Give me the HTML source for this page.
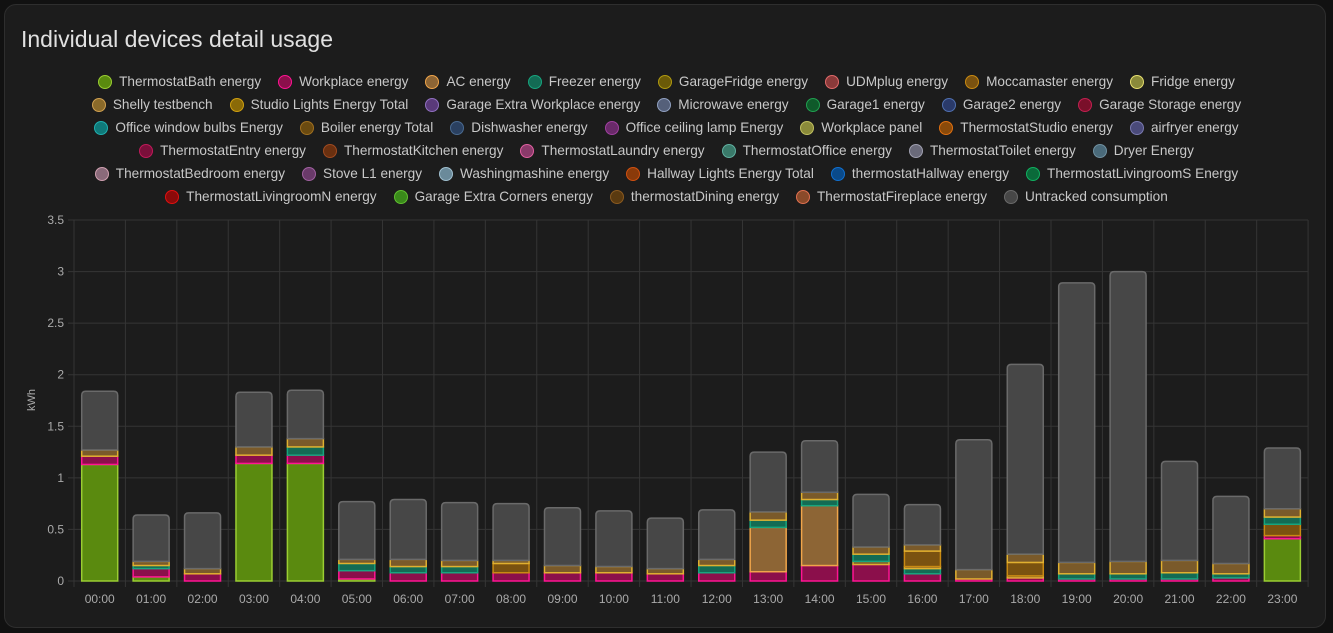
<!DOCTYPE html>
<html><head><meta charset="utf-8"><style>
body{margin:0;background:#111;width:1333px;height:633px;overflow:hidden;font-family:"Liberation Sans",sans-serif}
.card{position:absolute;left:4px;top:4px;width:1320px;height:622px;background:#1c1c1c;border:1px solid #2e2e2e;border-radius:12px}
.title{position:absolute;left:21px;top:26px;font-size:23px;color:#e1e1e1}
.leg{position:absolute;left:60px;width:1213px;display:flex;justify-content:center;gap:0 17px;font-size:13.6px;color:#c8c8c8;white-space:nowrap}
.leg span{display:flex;align-items:center}
.leg i{display:inline-block;width:12px;height:12px;border-radius:50%;border:1.5px solid;margin-right:7px}
svg{position:absolute;left:0;top:0}
</style></head><body>
<div class="card"></div>
<div class="title">Individual devices detail usage</div>
<div id="legend"></div>
<svg id="c" width="1333" height="633"></svg>
<script>
const rows=[
[["ThermostatBath energy","#5a8a0f","#9acd32"],["Workplace energy","#8b0f4b","#ff1493"],["AC energy","#8d6535","#f0a54a"],["Freezer energy","#136b54","#17a57e"],["GarageFridge energy","#6b5a08","#b09a10"],["UDMplug energy","#8a3a3a","#e06a6a"],["Moccamaster energy","#7a5210","#c98a12"],["Fridge energy","#8a8a3a","#e8e070"]],
[["Shelly testbench","#8a6a2a","#d0a050"],["Studio Lights Energy Total","#8a6a08","#d0a010"],["Garage Extra Workplace energy","#5a3a7a","#9070c0"],["Microwave energy","#55607a","#90a0c0"],["Garage1 energy","#0f5a2a","#20a050"],["Garage2 energy","#2a3a6a","#5070b0"],["Garage Storage energy","#7a0f2a","#c02050"]],
[["Office window bulbs Energy","#0f7a7a","#20b0b0"],["Boiler energy Total","#6a4a10","#a07020"],["Dishwasher energy","#2a4060","#4a6a90"],["Office ceiling lamp Energy","#6a2a6a","#a040a0"],["Workplace panel","#8a8a3a","#c0c060"],["ThermostatStudio energy","#8a4a0a","#e07010"],["airfryer energy","#4a4a7a","#7a7ab0"]],
[["ThermostatEntry energy","#7a0f3a","#c01a5a"],["ThermostatKitchen energy","#6a3010","#a04a20"],["ThermostatLaundry energy","#8a3a6a","#e060a0"],["ThermostatOffice energy","#3a7a6a","#60b0a0"],["ThermostatToilet energy","#6a6a7a","#a0a0b0"],["Dryer Energy","#4a6a7a","#7090a0"]],
[["ThermostatBedroom energy","#8a6a7a","#d0a0b0"],["Stove L1 energy","#6a3a6a","#a060a0"],["Washingmashine energy","#6a8a9a","#a0c0d0"],["Hallway Lights Energy Total","#8a3a0a","#d05010"],["thermostatHallway energy","#0a4a8a","#1070d0"],["ThermostatLivingroomS Energy","#0a6a3a","#10b060"]],
[["ThermostatLivingroomN energy","#8a0a0a","#e01010"],["Garage Extra Corners energy","#3a8a1a","#60c030"],["thermostatDining energy","#5a3a10","#8a5a20"],["ThermostatFireplace energy","#8a4a2a","#e07050"],["Untracked consumption","#474747","#6a6a6a"]]];
let lh="";const ys=[74,97,120,143,166,189];
rows.forEach((r,k)=>{lh+=`<div class="leg" style="top:${ys[k]}px">`+r.map(x=>`<span><i style="background:${x[1]};border-color:${x[2]}"></i>${x[0]}</span>`).join("")+`</div>`});
document.getElementById("legend").innerHTML=lh;
const Y=v=>581-v*103.14, L=74, W=51.42;
let s="";
for(let i=0;i<=7;i++){const y=Y(i*0.5);s+=`<line x1="${L-6}" x2="1308" y1="${y}" y2="${y}" stroke="#353535"/>`;s+=`<text x="64" y="${y+4}" fill="#aaa" font-size="12" text-anchor="end">${i*0.5}</text>`}
for(let i=0;i<=24;i++){const x=L+i*W;s+=`<line x1="${x}" x2="${x}" y1="220" y2="587" stroke="#353535"/>`}
s+=`<text transform="translate(35,400) rotate(-90)" fill="#aaa" font-size="11" text-anchor="middle">kWh</text>`;
const C={g:["#5a8a0f","#9acd32"],p:["#8b0f4b","#ff1493"],t:["#136b54","#17a57e"],a:["#8d6535","#f0a54a"],b:["#7a5210","#c98a12"],m:["#7a5a2a","#e0b030"],u:["#474747","#6a6a6a"]};
const D=[
[["g",1.13],["p",.08],["m",.06]],1.84,
[["g",.04],["p",.08],["t",.03],["m",.04]],.64,
[["p",.07],["m",.05]],.66,
[["g",1.14],["p",.08],["m",.08]],1.83,
[["g",1.14],["p",.08],["t",.08],["m",.08]],1.85,
[["g",.02],["p",.08],["t",.07],["m",.04]],.77,
[["p",.08],["t",.06],["m",.07]],.79,
[["p",.08],["t",.06],["m",.06]],.76,
[["p",.08],["b",.09],["m",.03]],.75,
[["p",.08],["m",.07]],.71,
[["p",.08],["m",.06]],.68,
[["p",.07],["m",.05]],.61,
[["p",.08],["t",.07],["m",.06]],.69,
[["p",.09],["a",.43],["t",.07],["m",.08]],1.25,
[["p",.15],["a",.58],["t",.06],["m",.07]],1.36,
[["p",.16],["m",.03],["t",.07],["m",.07]],.84,
[["p",.07],["t",.05],["m",.02],["b",.15],["m",.06]],.74,
[["p",.02],["m",.09]],1.37,
[["p",.03],["m",.02],["b",.13],["m",.08]],2.10,
[["p",.02],["t",.05],["m",.11]],2.89,
[["p",.02],["t",.05],["m",.12]],3.0,
[["p",.02],["t",.06],["m",.12]],1.16,
[["p",.03],["t",.04],["m",.10]],.82,
[["g",.41],["p",.03],["b",.11],["t",.07],["m",.08]],1.29];
for(let h=0;h<24;h++){const segs=D[h*2],tot=D[h*2+1];const cx=L+h*W+W/2,x=cx-18;let v=0;
segs.forEach(([k,d])=>{const y1=Y(v+d),y0=Y(v);s+=`<rect x="${x}" y="${y1}" width="36" height="${y0-y1}" fill="${C[k][0]}" stroke="${C[k][1]}" stroke-width="1.5"/>`;v+=d});
const yt=Y(tot),yb=Y(v);s+=`<path d="M${x} ${yb}V${yt+4}Q${x} ${yt} ${x+4} ${yt}H${x+32}Q${x+36} ${yt} ${x+36} ${yt+4}V${yb}Z" fill="#474747" stroke="#6a6a6a" stroke-width="1.5"/>`;
s+=`<text x="${cx}" y="603" fill="#aaa" font-size="12" text-anchor="middle">${String(h).padStart(2,"0")}:00</text>`;}
document.getElementById("c").innerHTML=s;
</script>
</body></html>
